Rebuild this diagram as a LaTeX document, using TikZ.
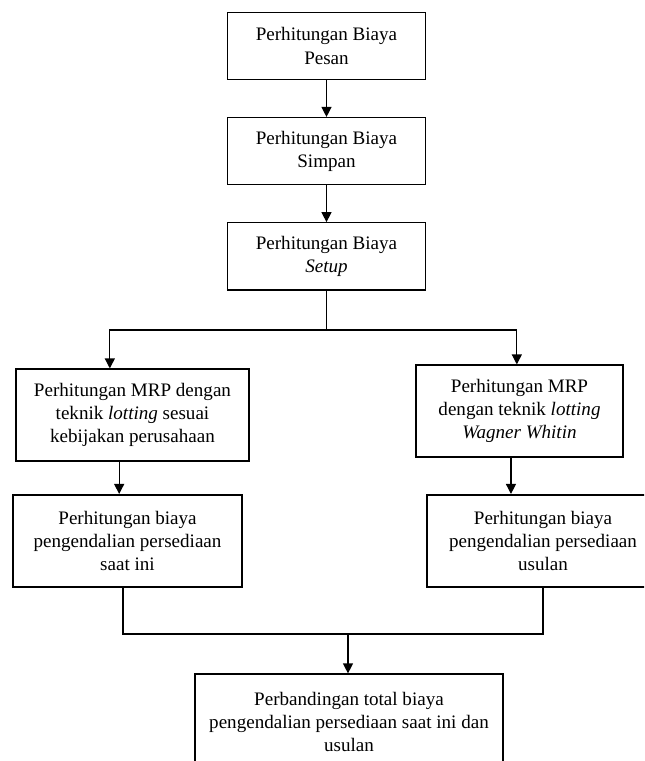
\documentclass[tikz,border=0pt]{standalone}
\usepackage{fontspec}
\setmainfont{Liberation Serif}
\usepackage{tikz}
\usetikzlibrary{arrows.meta,positioning}
\tikzset{
  procbox/.style={draw, line width=0.9pt, align=center, font=\fontsize{14.3}{17.3}\selectfont,
               minimum width=148pt, minimum height=50.5pt, inner sep=2pt},
  mrpbox/.style={procbox, minimum height=69pt},
  costbox/.style={mrpbox, line width=1.6pt},
  flow/.style={-{Triangle[length=7.5pt, width=7.5pt]}, line width=0.9pt},
  link/.style={line width=0.9pt},
  heavylink/.style={line width=1.6pt},
}

\begin{document}
\begin{tikzpicture}[x=0.75pt, y=-0.75pt, node distance=27.5pt]
  \clip (0,0) rectangle (644,761);
  \node[procbox] (pesan) at (326.5,46) {Perhitungan Biaya\\Pesan};
  \node[procbox, below=of pesan] (simpan) {Perhitungan Biaya\\Simpan};
  \node[procbox, below=of simpan] (setup) {Perhitungan Biaya\\\textit{Setup}};
  \node[mrpbox, minimum width=174.75pt] (mrpkini) at (132.5,415)
    {Perhitungan MRP dengan\\teknik \textit{lotting} sesuai\\kebijakan perusahaan};
  \node[mrpbox, minimum width=155.25pt] (mrpww) at (519.5,411)
    {Perhitungan MRP\\dengan teknik \textit{lotting}\\\textit{Wagner Whitin}};
  \node[costbox, minimum width=171.75pt] (biayakini) at (127.5,541)
    {Perhitungan biaya\\pengendalian persediaan\\saat ini};
  \node[costbox, minimum width=174pt] (biayausul) at (543,541)
    {Perhitungan biaya\\pengendalian persediaan\\usulan};
  \node[procbox, minimum width=231pt, minimum height=72pt] (banding) at (349,722)
    {Perbandingan total biaya\\pengendalian persediaan saat ini dan\\usulan};
  \coordinate (fork) at (setup.south |- 0,330);
  \coordinate (merge) at (348,634);
  \draw[flow] (pesan) -- (simpan);
  \draw[flow] (simpan) -- (setup);
  \draw[link] (setup.south) -- (fork);
  \draw[flow] (fork) -| ([xshift=-17pt]mrpkini.north);
  \draw[flow] (fork) -| ([xshift=-2pt]mrpww.north);
  \draw[flow] ([xshift=-10pt]mrpkini.south) -- ([xshift=-10pt]mrpkini.south |- biayakini.north);
  \draw[flow] ([xshift=-6.4pt]mrpww.south) -- ([xshift=-6.4pt]mrpww.south |- biayausul.north);
  \draw[heavylink] ([xshift=-3.4pt]biayakini.south) |- (merge) -| (biayausul.south);
  \draw[flow] (merge) -- (merge |- banding.north);
\end{tikzpicture}
\end{document}
